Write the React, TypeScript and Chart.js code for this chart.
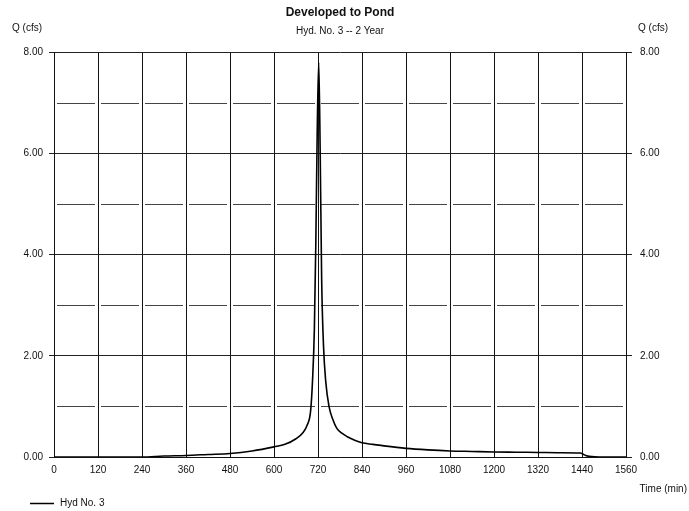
import React, { useEffect, useRef } from "react";
import { Chart, registerables } from "chart.js";

Chart.register(...registerables);

const chartTitle = "Developed to Pond";
const chartSubtitle = "Hyd. No. 3 -- 2 Year";
const yAxisTitle = "Q (cfs)";
const xAxisTitle = "Time (min)";
const seriesLabel = "Hyd No. 3";

const timeMin = [
  0, 120, 240, 300, 360, 420, 480, 540, 600, 630, 660, 680, 690, 700, 705, 710, 714, 718, 722,
  726, 730, 735, 741, 750, 760, 771, 785, 800, 820, 840, 870, 900, 960, 1020, 1080, 1140, 1200,
  1260, 1320, 1380, 1436, 1442, 1450, 1460, 1475, 1500, 1560,
];
const flowCfs = [
  0, 0, 0, 0.02, 0.03, 0.05, 0.07, 0.12, 0.2, 0.25, 0.36, 0.49, 0.62, 0.92, 1.5, 2.5, 4.2, 6.5, 7.8,
  6.0, 3.5, 2.2, 1.5, 1.0, 0.75, 0.57, 0.47, 0.4, 0.33, 0.28, 0.25, 0.22, 0.17, 0.14, 0.12, 0.11, 0.1,
  0.095, 0.09, 0.085, 0.08, 0.06, 0.03, 0.015, 0.005, 0, 0,
];
const xTicks = [0, 120, 240, 360, 480, 600, 720, 840, 960, 1080, 1200, 1320, 1440, 1560];
const yTicks = [0, 2, 4, 6, 8];
const yMinorTicks = [1, 3, 5, 7];

const FONT = "'Liberation Sans', Arial, Helvetica, sans-serif";

const decorPlugin = {
  id: "decor",
  beforeDatasetsDraw(chart: any) {
    const { ctx, chartArea, scales } = chart;
    const y = scales.y;
    const x = scales.x;
    const step = x.getPixelForValue(xTicks[1]) - x.getPixelForValue(xTicks[0]);
    ctx.save();
    ctx.strokeStyle = "#444";
    ctx.lineWidth = 1;
    ctx.setLineDash([step - 6, 6]);
    yMinorTicks.forEach((v) => {
      const py = Math.round(y.getPixelForValue(v)) + 0.5;
      ctx.beginPath();
      ctx.moveTo(chartArea.left + 3, py);
      ctx.lineTo(chartArea.right - 3, py);
      ctx.stroke();
    });
    ctx.restore();
  },
  afterDraw(chart: any) {
    const { ctx, chartArea } = chart;
    ctx.save();
    ctx.fillStyle = "#111";
    ctx.textBaseline = "middle";
    const cx = (chartArea.left + chartArea.right) / 2;
    ctx.textAlign = "center";
    ctx.font = `bold 12px ${FONT}`;
    ctx.fillText(chartTitle, cx, 13);
    ctx.font = `10px ${FONT}`;
    ctx.fillText(chartSubtitle, cx, 31);
    ctx.textAlign = "left";
    ctx.fillText(yAxisTitle, 12, 28);
    ctx.fillText(yAxisTitle, 638, 28);
    ctx.textAlign = "right";
    ctx.fillText(xAxisTitle, 687, 489);
    // legend
    const ds = chart.data.datasets[0];
    ctx.strokeStyle = ds.borderColor;
    ctx.lineWidth = 1.5;
    ctx.beginPath();
    ctx.moveTo(30, 503.5);
    ctx.lineTo(54, 503.5);
    ctx.stroke();
    ctx.textAlign = "left";
    ctx.fillText(ds.label, 60, 503);
    ctx.restore();
  },
};

export default function App() {
  const ref = useRef<HTMLCanvasElement | null>(null);
  useEffect(() => {
    document.body.style.margin = "0";
    const canvas = ref.current!;
    const tickFont = { family: FONT, size: 10 };
    const chart = new Chart(canvas, {
      type: "line",
      data: {
        datasets: [
          {
            label: seriesLabel,
            data: timeMin.map((t, i) => ({ x: t, y: flowCfs[i] })),
            borderColor: "#000",
            borderWidth: 1.6,
            pointRadius: 0,
            fill: false,
            cubicInterpolationMode: "monotone",
          },
        ],
      },
      options: {
        responsive: false,
        animation: false,
        devicePixelRatio: 1,
        layout: { padding: { top: 52, left: 0, right: 0, bottom: 0 } },
        plugins: { legend: { display: false }, title: { display: false }, tooltip: { enabled: false } },
        scales: {
          x: {
            type: "linear",
            min: 0,
            max: 1560,
            afterBuildTicks: (s: any) => {
              s.ticks = xTicks.map((v) => ({ value: v }));
            },
            ticks: { color: "#111", font: tickFont, padding: 7, maxRotation: 0, autoSkip: false, callback: (v: any) => String(v) },
            grid: { color: "#111", lineWidth: 1, drawTicks: false },
            border: { display: true, color: "#111" },
            afterFit: (s: any) => {
              s.height = 54;
            },
          },
          y: {
            type: "linear",
            position: "left",
            min: 0,
            max: 8,
            afterBuildTicks: (s: any) => {
              s.ticks = yTicks.map((v) => ({ value: v }));
            },
            ticks: { color: "#111", font: tickFont, padding: 6, callback: (v: any) => Number(v).toFixed(2) },
            grid: { color: "#222", lineWidth: 1, tickLength: 5 },
            border: { display: true, color: "#111" },
            afterFit: (s: any) => {
              s.width = 54;
            },
          },
          y2: {
            type: "linear",
            position: "right",
            min: 0,
            max: 8,
            afterBuildTicks: (s: any) => {
              s.ticks = yTicks.map((v) => ({ value: v }));
            },
            ticks: { color: "#111", font: tickFont, padding: 8, callback: (v: any) => Number(v).toFixed(2) },
            grid: { drawOnChartArea: false, color: "#222", tickLength: 6 },
            border: { display: true, color: "#111" },
            afterFit: (s: any) => {
              s.width = 63;
            },
          },
        },
      },
      plugins: [decorPlugin],
    } as any);
    return () => chart.destroy();
  }, []);
  return (
    <div style={{ position: "absolute", left: 0, top: 0, width: 689, height: 511, background: "#fff" }}>
      <canvas ref={ref} width={689} height={511} style={{ display: "block" }} />
    </div>
  );
}
